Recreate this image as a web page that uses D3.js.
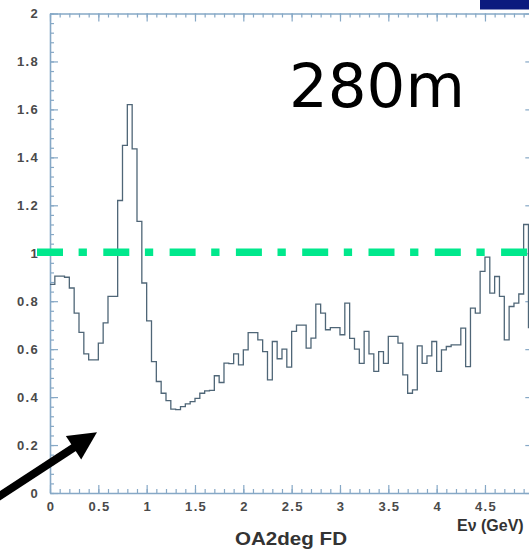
<!DOCTYPE html>
<html>
<head>
<meta charset="utf-8">
<script src="https://cdn.jsdelivr.net/npm/d3@7"></script>
<style>
  html, body { margin: 0; padding: 0; background: #fff; }
  svg { display: block; }
</style>
</head>
<body>
<div id="chart"></div>
<script>
// ---- data ----
const binWidth = 0.05;            // GeV
const binStart = 0;               // GeV
// ratio values per 0.05 GeV bin, 0 .. 5 GeV
const ratio = [
  0.87, 0.905, 0.905, 0.90, 0.855, 0.75, 0.67, 0.58, 0.555, 0.555,
  0.625, 0.71, 0.82, 0.82, 1.22, 1.45, 1.62, 1.435, 1.133, 0.876,
  0.718, 0.548, 0.465, 0.416, 0.385, 0.35, 0.348, 0.36, 0.372, 0.381,
  0.395, 0.416, 0.426, 0.428, 0.489, 0.461, 0.542, 0.54, 0.58, 0.534,
  0.597, 0.669, 0.669, 0.639, 0.59, 0.472, 0.632, 0.56, 0.60, 0.525,
  0.674, 0.70, 0.70, 0.604, 0.646, 0.788, 0.75, 0.681, 0.69, 0.69,
  0.66, 0.792, 0.645, 0.60, 0.541, 0.674, 0.58, 0.507, 0.59, 0.541,
  0.653, 0.653, 0.625, 0.493, 0.416, 0.43, 0.614, 0.541, 0.572, 0.632,
  0.507, 0.597, 0.611, 0.618, 0.618, 0.688, 0.527, 0.771, 0.75, 0.924,
  0.984, 0.834, 0.903, 0.82, 0.639, 0.778, 0.792, 0.83, 1.12, 0.69
];
const xMajorTicks = [0, 0.5, 1, 1.5, 2, 2.5, 3, 3.5, 4, 4.5, 5];
const xTickLabels = ["0", "0.5", "1", "1.5", "2", "2.5", "3", "3.5", "4", "4.5", ""];
const yMajorTicks = [0, 0.2, 0.4, 0.6, 0.8, 1, 1.2, 1.4, 1.6, 1.8, 2];
const yTickLabels = ["0", "0.2", "0.4", "0.6", "0.8", "1", "1.2", "1.4", "1.6", "1.8", "2"];
const referenceLevel = 1;
const xTitle = "OA2deg FD";
const xUnitTitle = "E\u03bd (GeV)";
const annotation = "280m";
// arrow annotation (in data units): tail, tip
const arrowTail = [-0.55, -0.02];
const arrowTip = [0.486, 0.253];

// ---- layout ----
const W = 529, H = 551;
const svg = d3.select("#chart").append("svg").attr("width", W).attr("height", H);
const sans = "'Liberation Sans', Arial, Helvetica, sans-serif";

const x = d3.scaleLinear().domain([0, 5]).range([50, 533.3]);
const y = d3.scaleLinear().domain([0, 2]).range([493, 13.5]);

const axisColor = "#86a8c6";
const labelColor = "#4a4a4a";

// minor ticks
const xMinor = d3.range(0, 5.0001, 0.1).map(v => +v.toFixed(2));
const yMinor = d3.range(0, 2.0001, 0.04).map(v => +v.toFixed(2));

function styleAxis(g) {
  g.selectAll("path.domain").attr("stroke", axisColor).attr("stroke-width", 1.6);
  g.selectAll(".tick line").attr("stroke", axisColor).attr("stroke-width", 1.2);
}
function styleLabels(g) {
  g.selectAll("text").attr("fill", labelColor).style("font-family", sans)
    .style("font-size", "13px").style("font-weight", "bold").style("letter-spacing", "1.3px");
}

// bottom axis
const gB = svg.append("g").attr("transform", `translate(0,${y(0)})`);
gB.call(d3.axisBottom(x).tickValues(xMinor).tickSize(-4).tickFormat("").tickSizeOuter(0));
const gB2 = svg.append("g").attr("transform", `translate(0,${y(0)})`);
gB2.call(d3.axisBottom(x).tickValues(xMajorTicks).tickSize(-8).tickSizeOuter(0).tickPadding(9)
  .tickFormat((d, i) => xTickLabels[i]));
gB2.select("path.domain").remove();
[gB, gB2].forEach(styleAxis);
styleLabels(gB2);
gB2.selectAll("text").attr("dx", "0.6px");

// top axis
const gT = svg.append("g").attr("transform", `translate(0,${y(2)})`);
gT.call(d3.axisTop(x).tickValues(xMinor).tickSize(-4).tickFormat("").tickSizeOuter(0));
const gT2 = svg.append("g").attr("transform", `translate(0,${y(2)})`);
gT2.call(d3.axisTop(x).tickValues(xMajorTicks).tickSize(-8).tickFormat("").tickSizeOuter(0));
gT2.select("path.domain").remove();
[gT, gT2].forEach(styleAxis);

// left axis
const gL = svg.append("g").attr("transform", `translate(${x(0)},0)`);
gL.call(d3.axisLeft(y).tickValues(yMinor).tickSize(-4).tickFormat("").tickSizeOuter(0));
const gL2 = svg.append("g").attr("transform", `translate(${x(0)},0)`);
gL2.call(d3.axisLeft(y).tickValues(yMajorTicks).tickSize(-8).tickSizeOuter(0).tickPadding(11)
  .tickFormat((d, i) => yTickLabels[i]));
gL2.select("path.domain").remove();
[gL, gL2].forEach(styleAxis);
styleLabels(gL2);

// right axis
const gR = svg.append("g").attr("transform", `translate(${x(5)},0)`);
gR.call(d3.axisRight(y).tickValues(yMinor).tickSize(-4).tickFormat("").tickSizeOuter(0));
const gR2 = svg.append("g").attr("transform", `translate(${x(5)},0)`);
gR2.call(d3.axisRight(y).tickValues(yMajorTicks).tickSize(-8).tickFormat("").tickSizeOuter(0));
gR2.select("path.domain").remove();
[gR, gR2].forEach(styleAxis);

// histogram (step outline)
const pts = [];
ratio.forEach((v, i) => {
  const x0 = binStart + i * binWidth, x1 = x0 + binWidth;
  pts.push([x0, v]); pts.push([x1, v]);
});
const line = d3.line().x(d => x(d[0])).y(d => y(d[1]));
svg.append("path")
  .attr("d", line(pts))
  .attr("fill", "none")
  .attr("stroke", "#4f6677")
  .attr("stroke-width", 1.3)
  .attr("stroke-linejoin", "miter");

// reference line at 1
svg.append("line")
  .attr("x1", 37).attr("x2", W)
  .attr("y1", y(referenceLevel) - 1).attr("y2", y(referenceLevel) - 1)
  .attr("stroke", "#00e88c")
  .attr("stroke-width", 7.7)
  .attr("stroke-dasharray", "26,15.6,8.3,16.4");

// annotation text
svg.append("text")
  .attr("x", 289).attr("y", 107)
  .style("font-family", "'DejaVu Sans', sans-serif")
  .style("font-size", "61px")
  .attr("fill", "#000")
  .text(annotation);

// navy box top-right
svg.append("rect")
  .attr("x", 480).attr("y", 0).attr("width", 49).attr("height", 9.5)
  .attr("fill", "#0b1a7e");

// axis titles
svg.append("text")
  .attr("x", 291).attr("y", 545)
  .attr("text-anchor", "middle")
  .style("font-family", sans).style("font-size", "18px").style("font-weight", "bold")
  .attr("fill", "#333")
  .attr("textLength", 112).attr("lengthAdjust", "spacingAndGlyphs")
  .text(xTitle);
svg.append("text")
  .attr("x", 457).attr("y", 531)
  .style("font-family", sans).style("font-size", "16px").style("font-weight", "bold")
  .attr("fill", "#333")
  .text(xUnitTitle);

// arrow
const ax0 = x(arrowTail[0]), ay0 = y(arrowTail[1]);
const ax1 = x(arrowTip[0]), ay1 = y(arrowTip[1]);
const dx = ax1 - ax0, dy = ay1 - ay0, len = Math.hypot(dx, dy);
const ux = dx / len, uy = dy / len;
const headLen = 28, headHalf = 14;
const bx = ax1 - ux * headLen, by = ay1 - uy * headLen;
svg.append("line")
  .attr("x1", ax0).attr("y1", ay0).attr("x2", bx + ux * 2).attr("y2", by + uy * 2)
  .attr("stroke", "#000").attr("stroke-width", 8);
svg.append("path")
  .attr("d", `M${ax1},${ay1} L${bx - uy * headHalf},${by + ux * headHalf} L${bx + uy * headHalf},${by - ux * headHalf} Z`)
  .attr("fill", "#000");
</script>
</body>
</html>
